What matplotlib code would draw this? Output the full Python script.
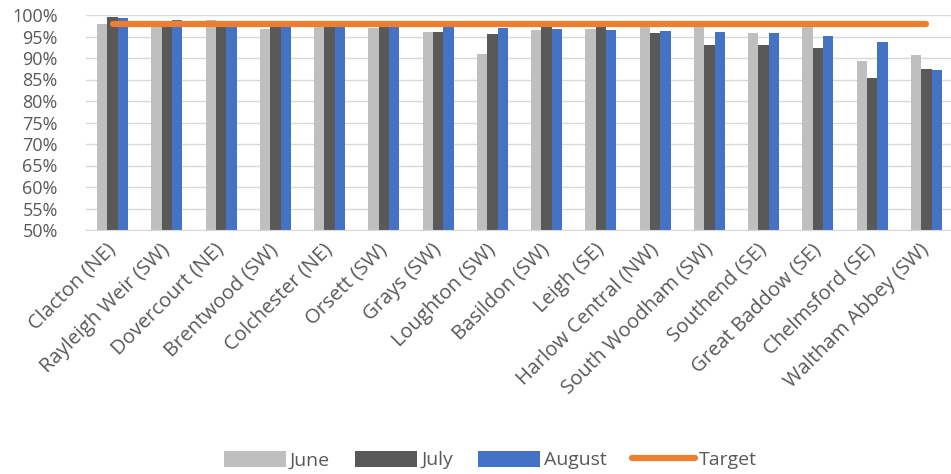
import matplotlib
matplotlib.use("Agg")
import matplotlib.pyplot as plt
import numpy as np
from matplotlib.ticker import FuncFormatter

categories = ["Clacton (NE)", "Rayleigh Weir (SW)", "Dovercourt (NE)", "Brentwood (SW)",
              "Colchester (NE)", "Orsett (SW)", "Grays (SW)", "Loughton (SW)",
              "Basildon (SW)", "Leigh (SE)", "Harlow Central (NW)", "South Woodham (SW)",
              "Southend (SE)", "Great Baddow (SE)", "Chelmsford (SE)", "Waltham Abbey (SW)"]
june = [98.0, 98.0, 98.8, 96.7, 98.0, 96.9, 96.1, 90.9, 96.6, 96.7, 98.0, 98.0, 95.7, 98.0, 89.4, 90.7]
july = [99.5, 98.0, 98.0, 98.0, 98.0, 98.0, 96.1, 95.6, 98.0, 98.0, 95.7, 93.0, 93.0, 92.4, 85.4, 87.4]
august = [99.3, 98.8, 98.0, 98.0, 98.0, 98.0, 97.2, 96.9, 96.8, 96.6, 96.2, 96.0, 95.8, 95.1, 93.7, 87.2]
target = [98.0] * len(categories)
yticks = list(range(50, 101, 5))

plt.rcParams['font.family'] = ['Open Sans', 'DejaVu Sans']
txt = '#595959'

fig = plt.figure(figsize=(9.51, 4.74), dpi=100)
ax = fig.add_axes([85.5/951, 1-230/474, 868/951, 215/474])

x = np.arange(len(categories))
w = 0.19
b1 = ax.bar(x - w, june, w, color='#BFBFBF', label='June', zorder=2)
b2 = ax.bar(x, july, w, color='#595959', label='July', zorder=2)
b3 = ax.bar(x + w, august, w, color='#4472C4', label='August', zorder=2)
ln, = ax.plot(x, target, color='#ED7D31', lw=4.5, solid_capstyle='round', label='Target', zorder=3)

ax.set_ylim(50, 100)
ax.set_xlim(-0.5, len(categories) - 0.5)
ax.set_yticks(yticks)
ax.yaxis.set_major_formatter(FuncFormatter(lambda v, p: f"{int(v)}%"))
ax.grid(axis='y', color='#D9D9D9', lw=1, zorder=0)
for s in ['top', 'right', 'left']:
    ax.spines[s].set_visible(False)
ax.spines['bottom'].set_color('#D9D9D9')
ax.tick_params(axis='both', length=0, colors=txt)
ax.tick_params(axis='y', pad=20, labelsize=13)
ax.set_xticks(x)
ax.set_xticklabels(categories, rotation=45, ha='right', va='center', rotation_mode='anchor', fontsize=14.5)
ax.tick_params(axis='x', pad=12)

leg = fig.legend([b1, b2, b3, ln], ['June', 'July', 'August', 'Target'], loc='center',
                 bbox_to_anchor=(490/951, 1-460/474), ncol=4, frameon=False,
                 fontsize=14, handlelength=3.2, handleheight=0.9, columnspacing=1.3, handletextpad=0.2)
for t in leg.get_texts():
    t.set_color(txt)

fig.savefig('out.png', dpi=100)
